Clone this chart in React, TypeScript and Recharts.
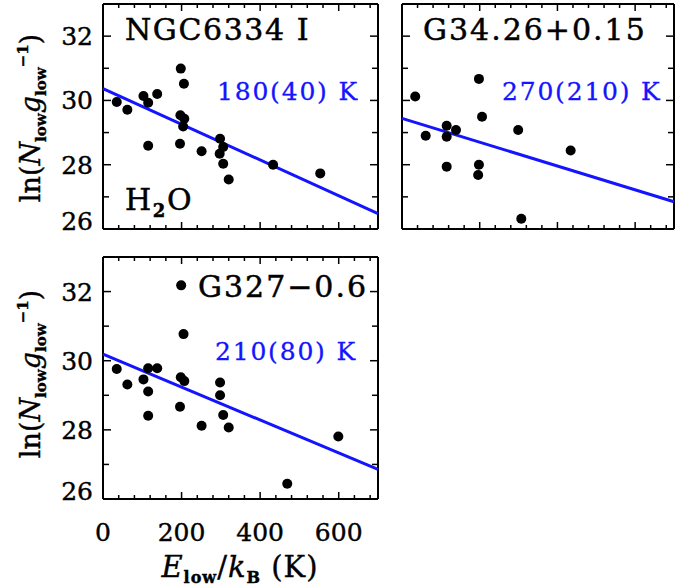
import { ScatterChart, Scatter, XAxis, YAxis } from 'recharts'

// E_low/k_B (K) and ln(N_low g_low^-1) for each source
const ngcE = [35, 62, 103, 115, 138, 115, 198, 206, 197, 207, 204, 196, 251, 298, 306, 297, 306, 320, 433, 553]
const ngcN = [29.95, 29.71, 30.14, 29.93, 30.2, 28.59, 30.99, 30.52, 29.54, 29.43, 29.19, 28.65, 28.42, 28.81, 28.55, 28.34, 28.03, 27.54, 28.0, 27.73]

const g34E = [34, 61, 115, 115, 139, 115, 198, 206, 198, 196, 299, 434, 307]
const g34N = [30.12, 28.9, 29.21, 28.87, 29.08, 27.94, 30.67, 29.49, 28.0, 27.68, 29.08, 28.44, 26.32]

const g327E = [35, 62, 103, 115, 138, 115, 115, 199, 205, 198, 207, 196, 251, 298, 298, 306, 320, 469, 599]
const g327N = [29.76, 29.31, 29.46, 29.78, 29.78, 29.11, 28.41, 32.18, 30.77, 29.52, 29.41, 28.67, 28.12, 29.37, 29.0, 28.43, 28.07, 26.44, 27.81]

// rotation diagram fits: intercept and temperature (K) with error
const fitIntercepts = [30.37, 29.44, 30.19]
const fitTemps = [180, 270, 210]
const fitErrs = [40, 210, 80]

const xTicks = [0, 40, 80, 120, 160, 200, 240, 280, 320, 360, 400, 440, 480, 520, 560, 600, 640, 680]
const yTicks = [26, 27, 28, 29, 30, 31, 32, 33]

const FONT = 'DejaVu Serif'
const BLUE = '#1414ff'

const toPoints = (E: number[], N: number[]) => E.map((e, i) => ({ x: e, y: N[i] }))
const fitLine = (i: number) => [
    { x: 0, y: fitIntercepts[i] },
    { x: 700, y: fitIntercepts[i] - 700 / fitTemps[i] },
]

const Dot = (props: any) => <circle cx={props.cx} cy={props.cy} r={5} fill="#000" />
const NoDot = () => <g />

const tickText = { fontFamily: FONT, fontSize: 25, fill: '#000', stroke: '#000', strokeWidth: 0.4 }

const LeftTick = ({ x, y, payload, labels }: any) => {
    const v = payload.value
    if (v === 33 || v === 26) {
        return labels && v === 26 ? (
            <text x={x - 10} y={y - 8} dy="0.36em" textAnchor="end" {...tickText}>
                {v}
            </text>
        ) : <g />
    }
    const major = v % 2 === 0
    return (
        <g>
            <line x1={x} x2={x + (major ? 8 : 6)} y1={y} y2={y} stroke="#000" strokeWidth={1.5} />
            {labels && major && (
                <text x={x - 10} y={y} dy="0.36em" textAnchor="end" {...tickText}>
                    {v}
                </text>
            )}
        </g>
    )
}

const RightTick = ({ x, y, payload }: any) => {
    const v = payload.value
    if (v === 33 || v === 26) return <g />
    const major = v % 2 === 0
    return <line x1={x} x2={x - (major ? 8 : 6)} y1={y} y2={y} stroke="#000" strokeWidth={1.5} />
}

const BottomTick = ({ x, y, payload, labels }: any) => {
    const v = payload.value
    const major = v % 200 === 0
    return (
        <g>
            {v !== 0 && <line x1={x} x2={x} y1={y} y2={y - (major ? 7 : 4)} stroke="#000" strokeWidth={1.5} />}
            {labels && major && (
                <text x={x} y={y + 42} textAnchor="middle" {...tickText}>
                    {v}
                </text>
            )}
        </g>
    )
}

const TopTick = ({ x, y, payload }: any) => {
    const v = payload.value
    if (v === 0) return <g />
    const major = v % 200 === 0
    return <line x1={x} x2={x} y1={y} y2={y + (major ? 7 : 4)} stroke="#000" strokeWidth={1.5} />
}

const frame = { stroke: '#000', strokeWidth: 2 }

const Panel = ({ idx, E, N, width, height, margin, leftWidth, yLabels, xLabels }: any) => (
    <ScatterChart width={width} height={height} margin={margin}>
        <XAxis
            xAxisId="b"
            type="number"
            dataKey="x"
            domain={[0, 700]}
            ticks={xTicks}
            interval={0}
            height={1}
            tickSize={0}
            tickMargin={0}
            tickLine={false}
            axisLine={frame}
            tick={<BottomTick labels={xLabels} />}
        />
        <XAxis
            xAxisId="t"
            orientation="top"
            type="number"
            dataKey="x"
            domain={[0, 700]}
            ticks={xTicks}
            interval={0}
            height={1}
            tickSize={0}
            tickMargin={0}
            tickLine={false}
            axisLine={frame}
            tick={<TopTick />}
        />
        <YAxis
            yAxisId="l"
            type="number"
            dataKey="y"
            domain={[26, 33]}
            ticks={yTicks}
            interval={0}
            width={leftWidth}
            tickSize={0}
            tickMargin={0}
            tickLine={false}
            axisLine={frame}
            tick={<LeftTick labels={yLabels} />}
        />
        <YAxis
            yAxisId="r"
            orientation="right"
            type="number"
            dataKey="y"
            domain={[26, 33]}
            ticks={yTicks}
            interval={0}
            width={1}
            tickSize={0}
            tickMargin={0}
            tickLine={false}
            axisLine={frame}
            tick={<RightTick />}
        />
        <Scatter xAxisId="t" yAxisId="r" data={fitLine(idx)} shape={<NoDot />} isAnimationActive={false} />
        <Scatter
            xAxisId="b"
            yAxisId="l"
            data={fitLine(idx)}
            line={{ stroke: BLUE, strokeWidth: 3 }}
            shape={<NoDot />}
            isAnimationActive={false}
        />
        <Scatter xAxisId="b" yAxisId="l" data={toPoints(E, N)} shape={<Dot />} isAnimationActive={false} />
    </ScatterChart>
)

const YTitle = ({ cx, cy }: { cx: number; cy: number }) => (
    <text transform={`translate(${cx},${cy}) rotate(-90)`} textAnchor="middle" fontFamily={FONT} fontSize={27}
        fill="#000" stroke="#000" strokeWidth={0.4}>
        ln(
        <tspan fontStyle="italic">N</tspan>
        <tspan fontSize={15} fontWeight="bold" dy={6}>low</tspan>
        <tspan fontStyle="italic" dy={-6}>g</tspan>
        <tspan fontSize={15} fontWeight="bold" dy={6}>low</tspan>
        <tspan fontSize={15} fontWeight="bold" dy={-18}>−1</tspan>
        <tspan dy={12}>)</tspan>
    </text>
)

const big = { fontFamily: FONT, fontSize: 30, fill: '#000', stroke: '#000', strokeWidth: 0.5, letterSpacing: 1.6 }
const blue = { fontFamily: FONT, fontSize: 25, fill: BLUE, stroke: BLUE, strokeWidth: 0.3, letterSpacing: 1.8 }

const App = () => {
    return (
        <div style={{ position: 'absolute', left: 0, top: 0, width: 675, height: 588, background: '#fff' }}>
            <div style={{ position: 'absolute', left: 0, top: 0 }}>
                <Panel idx={0} E={ngcE} N={ngcN} width={380} height={245}
                    margin={{ top: 3, right: 1, bottom: 15, left: 0 }} leftWidth={103} yLabels xLabels={false} />
            </div>
            <div style={{ position: 'absolute', left: 395, top: 0 }}>
                <Panel idx={1} E={g34E} N={g34N} width={280} height={245}
                    margin={{ top: 3, right: 0, bottom: 15, left: 0 }} leftWidth={7} yLabels={false} xLabels={false} />
            </div>
            <div style={{ position: 'absolute', left: 0, top: 250 }}>
                <Panel idx={2} E={g327E} N={g327N} width={380} height={338}
                    margin={{ top: 6, right: 1, bottom: 88, left: 0 }} leftWidth={103} yLabels xLabels />
            </div>
            <svg width={675} height={588} style={{ position: 'absolute', left: 0, top: 0, pointerEvents: 'none' }}>
                <text x={125} y={40} {...big}>NGC6334  I</text>
                <text x={125} y={210} {...big}>
                    H<tspan fontSize={18} fontWeight="bold" dy={7}>2</tspan><tspan dy={-7}>O</tspan>
                </text>
                <text x={217} y={100} {...blue}>{`${fitTemps[0]}(${fitErrs[0]})  K`}</text>
                <text x={423} y={40} {...big} letterSpacing={2}>G34.26+0.15</text>
                <text x={502} y={100} {...blue}>{`${fitTemps[1]}(${fitErrs[1]})  K`}</text>
                <text x={198} y={297} {...big} letterSpacing={2}>G327−0.6</text>
                <text x={215} y={360} {...blue}>{`${fitTemps[2]}(${fitErrs[2]})  K`}</text>
                <YTitle cx={40} cy={118} />
                <YTitle cx={40} cy={374} />
                <text x={240} y={577} textAnchor="middle" fontFamily={FONT} fontSize={29} fill="#000" stroke="#000"
                    strokeWidth={0.4} letterSpacing={1}>
                    <tspan fontStyle="italic">E</tspan>
                    <tspan fontSize={16} fontWeight="bold" dy={6}>low</tspan>
                    <tspan dy={-6}>/</tspan>
                    <tspan fontStyle="italic">k</tspan>
                    <tspan fontSize={16} fontWeight="bold" dy={6}>B</tspan>
                    <tspan dy={-6}>{'  (K)'}</tspan>
                </text>
            </svg>
        </div>
    )
}

export default App
